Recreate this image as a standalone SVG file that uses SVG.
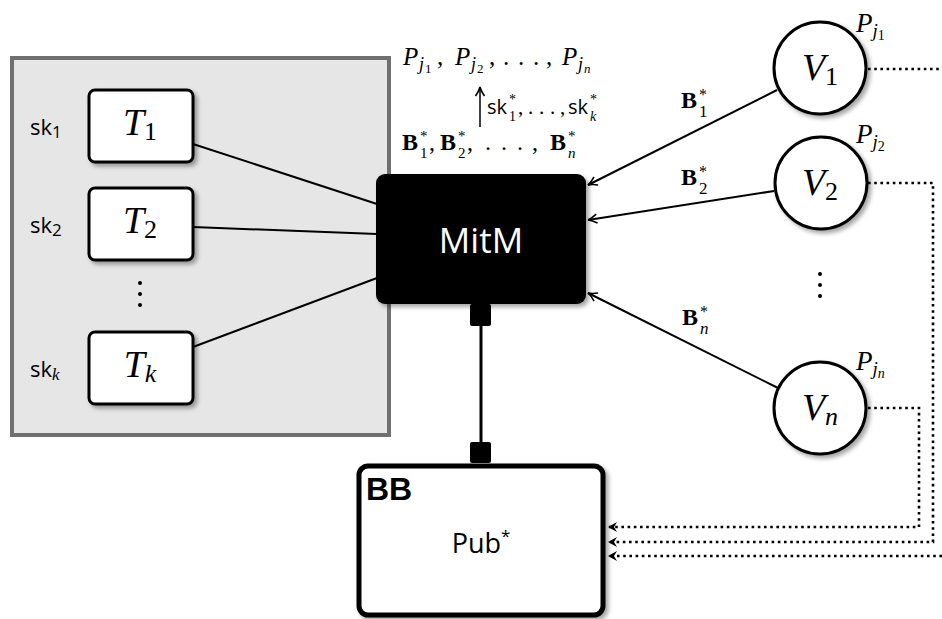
<svg xmlns="http://www.w3.org/2000/svg" width="942" height="619" viewBox="0 0 942 619">
<defs>
<filter id="sh" x="-20%" y="-20%" width="150%" height="150%">
<feDropShadow dx="3" dy="3" stdDeviation="2" flood-color="#000" flood-opacity="0.35"/>
</filter>
<marker id="open" markerUnits="userSpaceOnUse" markerWidth="14" markerHeight="14" viewBox="-12 -7 14 14" refX="0" refY="0" orient="auto">
<path d="M-9,-4.5 Q-4,-1 0,0 Q-4,1 -9,4.5" fill="none" stroke="#000" stroke-width="1.6"/>
</marker>
<marker id="stealth" markerUnits="userSpaceOnUse" markerWidth="14" markerHeight="14" viewBox="-12 -7 14 14" refX="0" refY="0" orient="auto">
<path d="M0,0 L-9,-5 L-6,0 L-9,5 Z" fill="#000"/>
</marker>
</defs>
<style>
.box{fill:#fff;stroke:#000;stroke-width:3}
.mi{font-family:"Liberation Serif",serif;font-style:italic}
.up{font-family:"Liberation Serif",serif;font-style:normal}
.bf{font-family:"Liberation Serif",serif;font-weight:bold}
.sf{font-family:"Open Sans","DejaVu Sans",sans-serif}
.ln{stroke:#000;stroke-width:2;fill:none}
.dot{stroke:#000;stroke-width:2.6;fill:none;stroke-dasharray:2.6 3.6}
</style>

<g id="trustees">
<rect x="12" y="58" width="377" height="377" fill="#e6e6e6" stroke="#707070" stroke-width="4"/>
<g id="T1">
<rect class="box" x="89" y="90" width="104" height="72" rx="6" filter="url(#sh)"/>
<text class="mi" x="140" y="135" font-size="38" text-anchor="middle">T<tspan class="up" font-size="26" dy="5">1</tspan></text>
<text class="sf" x="30" y="135" font-size="22">sk<tspan font-size="17" dy="3">1</tspan></text>
</g>
<g id="T2">
<rect class="box" x="89" y="188" width="104" height="72" rx="6" filter="url(#sh)"/>
<text class="mi" x="140" y="233" font-size="38" text-anchor="middle">T<tspan class="up" font-size="26" dy="5">2</tspan></text>
<text class="sf" x="30" y="233" font-size="22">sk<tspan font-size="17" dy="3">2</tspan></text>
</g>
<g id="Tk">
<rect class="box" x="89" y="332" width="104" height="72" rx="6" filter="url(#sh)"/>
<text class="mi" x="140" y="377" font-size="38" text-anchor="middle">T<tspan font-size="26" dy="5">k</tspan></text>
<text class="sf" x="30" y="377" font-size="22">sk<tspan class="mi" font-size="17" dy="3">k</tspan></text>
</g>
<g id="tdots" fill="#000">
<circle cx="140" cy="283" r="2"/><circle cx="140" cy="294" r="2"/><circle cx="140" cy="305" r="2"/>
</g>
</g>

<g id="connectors">
<line class="ln" x1="193" y1="144" x2="377" y2="204"/>
<line class="ln" x1="193" y1="227" x2="377" y2="234"/>
<line class="ln" x1="193" y1="347" x2="377" y2="278"/>
<line class="ln" x1="777" y1="90" x2="588" y2="185" marker-end="url(#open)"/>
<line class="ln" x1="774" y1="191" x2="588" y2="220" marker-end="url(#open)"/>
<line class="ln" x1="778" y1="388" x2="588" y2="293" marker-end="url(#open)"/>
<line x1="481" y1="325" x2="481" y2="443" stroke="#000" stroke-width="3"/>
<rect x="470" y="304" width="21" height="22" rx="2" fill="#000"/>
<rect x="470" y="442" width="21" height="21" rx="2" fill="#000"/>
<line x1="480" y1="127" x2="480" y2="87" stroke="#000" stroke-width="1.5" marker-end="url(#open)"/>
<polyline class="dot" points="868,69 942,69"/>
<polyline class="dot" points="868,183 933,183 933,542 608,542" marker-end="url(#stealth)"/>
<polyline class="dot" points="868,408 919,408 919,527 608,527" marker-end="url(#stealth)"/>
<polyline class="dot" points="942,556 608,556" marker-end="url(#stealth)"/>
</g>

<g id="MitM">
<rect x="376" y="174" width="210" height="130" rx="9" fill="#000" filter="url(#sh)"/>
<text class="sf" x="481" y="253" font-size="35" fill="#fff" text-anchor="middle">MitM</text>
</g>

<g id="BB">
<rect x="359" y="466" width="244" height="149" rx="9" fill="#fff" stroke="#000" stroke-width="5" filter="url(#sh)"/>
<text x="366" y="500" font-size="32" font-weight="bold" font-family="'Liberation Sans',sans-serif">BB</text>
<text class="sf" x="481" y="553" font-size="27" text-anchor="middle">Pub<tspan font-size="17" dy="-11">*</tspan></text>
</g>

<g id="V1">
<circle cx="820" cy="68" r="46" fill="#fff" stroke="#000" stroke-width="3" filter="url(#sh)"/>
<text class="mi" x="820" y="80" font-size="38" text-anchor="middle">V<tspan class="up" font-size="26" dy="5">1</tspan></text>
<text class="mi" x="856" y="32" font-size="27">P<tspan font-size="19" dy="5">j</tspan><tspan class="up" font-size="14" dy="3">1</tspan></text>
</g>
<g id="V2">
<circle cx="821" cy="183" r="46" fill="#fff" stroke="#000" stroke-width="3" filter="url(#sh)"/>
<text class="mi" x="820" y="195" font-size="38" text-anchor="middle">V<tspan class="up" font-size="26" dy="5">2</tspan></text>
<text class="mi" x="856" y="143" font-size="27">P<tspan font-size="19" dy="5">j</tspan><tspan class="up" font-size="14" dy="3">2</tspan></text>
</g>
<g id="vdots" fill="#000">
<circle cx="820" cy="274" r="2"/><circle cx="820" cy="285" r="2"/><circle cx="820" cy="296" r="2"/>
</g>
<g id="Vn">
<circle cx="820" cy="408" r="46" fill="#fff" stroke="#000" stroke-width="3" filter="url(#sh)"/>
<text class="mi" x="820" y="420" font-size="38" text-anchor="middle">V<tspan font-size="26" dy="5">n</tspan></text>
<text class="mi" x="856" y="370" font-size="27">P<tspan font-size="19" dy="5">j</tspan><tspan font-size="14" dy="3">n</tspan></text>
</g>

<g id="labels">
<text class="bf" x="681" y="108" font-size="24">B</text>
<text class="up" x="699" y="100" font-size="16">*</text>
<text class="up" x="699" y="117" font-size="17">1</text>
<text class="bf" x="681" y="185" font-size="24">B</text>
<text class="up" x="699" y="177" font-size="16">*</text>
<text class="up" x="699" y="194" font-size="17">2</text>
<text class="bf" x="682" y="325" font-size="24">B</text>
<text class="up" x="700" y="317" font-size="16">*</text>
<text class="mi" x="700" y="334" font-size="17">n</text>

<text class="mi" x="403" y="65" font-size="25">P</text>
<text class="mi" x="419" y="70" font-size="18">j</text>
<text class="up" x="425" y="73" font-size="13">1</text>
<text class="up" x="437" y="65" font-size="25">,</text>
<text class="mi" x="455" y="65" font-size="25">P</text>
<text class="mi" x="471" y="70" font-size="18">j</text>
<text class="up" x="477" y="73" font-size="13">2</text>
<text class="up" x="489" y="65" font-size="25">,</text>
<text class="up" x="503" y="65" font-size="25">.</text>
<text class="up" x="518" y="65" font-size="25">.</text>
<text class="up" x="533" y="65" font-size="25">.</text>
<text class="up" x="546" y="65" font-size="25">,</text>
<text class="mi" x="562" y="65" font-size="25">P</text>
<text class="mi" x="578" y="70" font-size="18">j</text>
<text class="mi" x="584" y="73" font-size="13">n</text>

<text class="sf" x="487" y="114" font-size="20">sk</text>
<text class="up" x="509" y="104" font-size="14">*</text>
<text class="up" x="509" y="121" font-size="14">1</text>
<text class="up" x="518" y="114" font-size="21">,</text>
<text class="up" x="528" y="114" font-size="21">.</text>
<text class="up" x="539" y="114" font-size="21">.</text>
<text class="up" x="550" y="114" font-size="21">.</text>
<text class="up" x="560" y="114" font-size="21">,</text>
<text class="sf" x="568" y="114" font-size="20">sk</text>
<text class="up" x="590" y="104" font-size="14">*</text>
<text class="mi" x="590" y="121" font-size="14">k</text>

<text class="bf" x="402" y="150" font-size="24">B</text>
<text class="up" x="420" y="141" font-size="15">*</text>
<text class="up" x="420" y="158" font-size="15">1</text>
<text class="up" x="429" y="150" font-size="24">,</text>
<text class="bf" x="440" y="150" font-size="24">B</text>
<text class="up" x="458" y="141" font-size="15">*</text>
<text class="up" x="458" y="158" font-size="15">2</text>
<text class="up" x="467" y="150" font-size="24">,</text>
<text class="up" x="485" y="150" font-size="24">.</text>
<text class="up" x="501" y="150" font-size="24">.</text>
<text class="up" x="517" y="150" font-size="24">.</text>
<text class="up" x="532" y="150" font-size="24">,</text>
<text class="bf" x="550" y="150" font-size="24">B</text>
<text class="up" x="568" y="141" font-size="15">*</text>
<text class="mi" x="568" y="158" font-size="15">n</text>
</g>
</svg>
